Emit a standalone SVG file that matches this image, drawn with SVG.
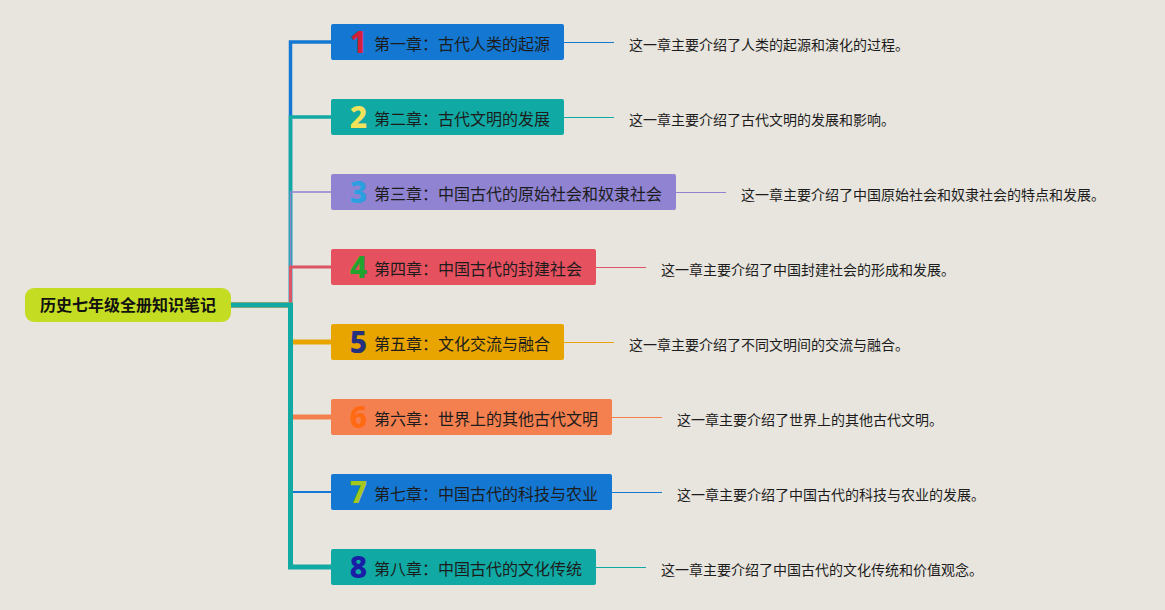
<svg xmlns="http://www.w3.org/2000/svg" width="1165" height="610" viewBox="0 0 1165 610">
<style>
.bg{fill:#e8e5de}
.node{stroke:none}
.t{font-family:"Noto Sans CJK SC","Noto Sans",sans-serif;font-size:16px;fill:#1c1c1c}
.d{font-family:"Noto Sans CJK SC","Noto Sans",sans-serif;font-size:14px;fill:#1c1c1c}
.n{font-family:"Noto Sans","Liberation Sans",sans-serif;font-size:30px;font-weight:800;text-anchor:middle}
.root{font-family:"Noto Sans CJK SC","Noto Sans",sans-serif;font-size:16px;font-weight:bold;fill:#111;text-anchor:middle}
.br{fill:none;stroke-linejoin:miter;stroke-linecap:butt}
.ln{fill:none;stroke-width:1}
</style>
<rect class="bg" x="0" y="0" width="1165" height="610"/>
<g id="connectors">
<path class="br" d="M231 305H290.5V42H331" stroke="#1478d2" stroke-width="3.5"/>
<path class="br" d="M231 305H290.5V117H331" stroke="#10a9a3" stroke-width="3.5"/>
<path class="br" d="M231 305H290.5V192H331" stroke="#8f83d2" stroke-width="1.5"/>
<path class="br" d="M231 305H290.5V267H331" stroke="#dc5564" stroke-width="3"/>
<path class="br" d="M231 305H290.5V342H331" stroke="#e8a500" stroke-width="5"/>
<path class="br" d="M231 305H290.5V417H331" stroke="#f5804f" stroke-width="5"/>
<path class="br" d="M231 305H290.5V492H331" stroke="#1478d2" stroke-width="2"/>
<path class="br" d="M231 305H290.5V567H331" stroke="#10a9a3" stroke-width="5"/>
<line class="ln" x1="564" y1="42.5" x2="614" y2="42.5" stroke="#1478d2"/>
<line class="ln" x1="564" y1="117.5" x2="614" y2="117.5" stroke="#10a9a3"/>
<line class="ln" x1="676" y1="192.5" x2="726" y2="192.5" stroke="#8f83d2"/>
<line class="ln" x1="596" y1="267.5" x2="646" y2="267.5" stroke="#dc5564"/>
<line class="ln" x1="564" y1="342.5" x2="614" y2="342.5" stroke="#e8a500"/>
<line class="ln" x1="612" y1="417.5" x2="662" y2="417.5" stroke="#f5804f"/>
<line class="ln" x1="612" y1="492.5" x2="662" y2="492.5" stroke="#1478d2"/>
<line class="ln" x1="596" y1="567.5" x2="646" y2="567.5" stroke="#10a9a3"/>
</g>
<g id="root">
<rect x="25" y="288" width="206" height="34" rx="9" fill="#c4dc22"/>
<text class="root" x="128" y="311">历史七年级全册知识笔记</text>
</g>
<g id="ch1">
<rect class="node" x="331" y="24" width="233" height="36" rx="2" fill="#1478d2"/>
<text class="n" x="358.5" y="53" fill="#d11f3c">1</text>
<text class="t" x="374" y="49.5">第一章：古代人类的起源</text>
<text class="d" x="629" y="50">这一章主要介绍了人类的起源和演化的过程。</text>
</g>
<g id="ch2">
<rect class="node" x="331" y="99" width="233" height="36" rx="2" fill="#10a9a3"/>
<text class="n" x="358.5" y="128" fill="#f2e35a">2</text>
<text class="t" x="374" y="124.5">第二章：古代文明的发展</text>
<text class="d" x="629" y="125">这一章主要介绍了古代文明的发展和影响。</text>
</g>
<g id="ch3">
<rect class="node" x="331" y="174" width="345" height="36" rx="2" fill="#8f83d2"/>
<text class="n" x="358.5" y="203" fill="#2c9fe0">3</text>
<text class="t" x="374" y="199.5">第三章：中国古代的原始社会和奴隶社会</text>
<text class="d" x="741" y="200">这一章主要介绍了中国原始社会和奴隶社会的特点和发展。</text>
</g>
<g id="ch4">
<rect class="node" x="331" y="249" width="265" height="36" rx="2" fill="#e6515f"/>
<text class="n" x="358.5" y="278" fill="#22a32e">4</text>
<text class="t" x="374" y="274.5">第四章：中国古代的封建社会</text>
<text class="d" x="661" y="275">这一章主要介绍了中国封建社会的形成和发展。</text>
</g>
<g id="ch5">
<rect class="node" x="331" y="324" width="233" height="36" rx="2" fill="#e8a500"/>
<text class="n" x="358.5" y="353" fill="#25307e">5</text>
<text class="t" x="374" y="349.5">第五章：文化交流与融合</text>
<text class="d" x="629" y="350">这一章主要介绍了不同文明间的交流与融合。</text>
</g>
<g id="ch6">
<rect class="node" x="331" y="399" width="281" height="36" rx="2" fill="#f5804f"/>
<text class="n" x="358.5" y="428" fill="#ff6a12">6</text>
<text class="t" x="374" y="424.5">第六章：世界上的其他古代文明</text>
<text class="d" x="677" y="425">这一章主要介绍了世界上的其他古代文明。</text>
</g>
<g id="ch7">
<rect class="node" x="331" y="474" width="281" height="36" rx="2" fill="#1478d2"/>
<text class="n" x="358.5" y="503" fill="#a6c71e">7</text>
<text class="t" x="374" y="499.5">第七章：中国古代的科技与农业</text>
<text class="d" x="677" y="500">这一章主要介绍了中国古代的科技与农业的发展。</text>
</g>
<g id="ch8">
<rect class="node" x="331" y="549" width="265" height="36" rx="2" fill="#10a9a3"/>
<text class="n" x="358.5" y="578" fill="#1a1ea6">8</text>
<text class="t" x="374" y="574.5">第八章：中国古代的文化传统</text>
<text class="d" x="661" y="575">这一章主要介绍了中国古代的文化传统和价值观念。</text>
</g>
</svg>
